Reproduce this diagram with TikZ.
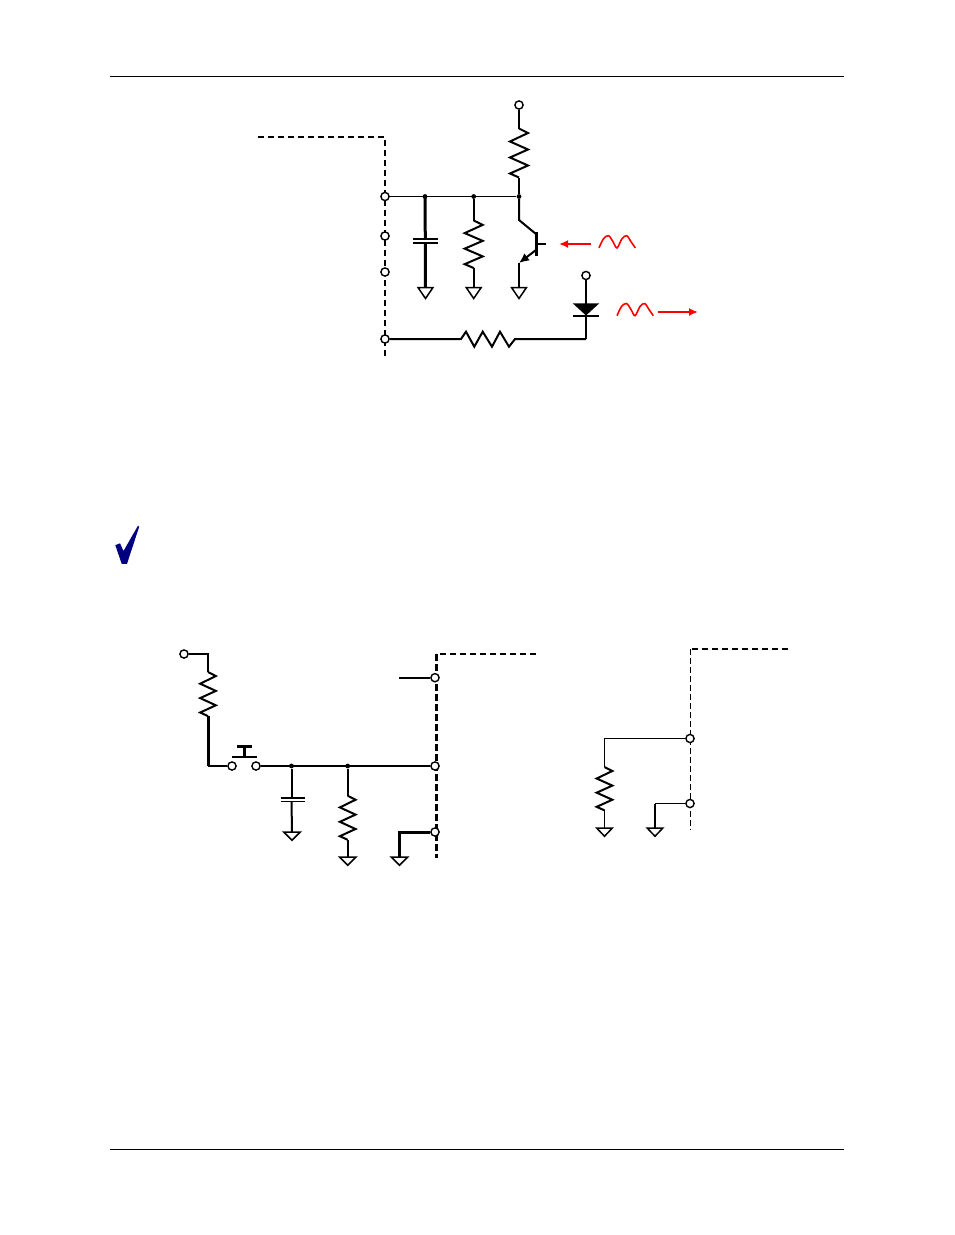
\documentclass[tikz,border=0pt]{standalone}
\usepackage{xcolor}
\usepackage{tikz}
\usetikzlibrary{arrows.meta}
\definecolor{checkblue}{RGB}{0,0,128}
\tikzset{
  term/.style={circle,draw,fill=white,inner sep=0pt,minimum size=8.2pt,line width=1.4pt},
  dot/.style={circle,fill=black,inner sep=0pt,minimum size=4.8pt},
  wire/.style={line width=2pt},
  thinwire/.style={line width=1.4pt},
  heavywire/.style={line width=3pt},
  bound/.style={dashed,dash pattern=on 6pt off 4pt,line width=1.9pt},
  sig/.style={red,line width=1.9pt,-{Latex[length=9pt,width=8pt]}},
  wave/.style={red,line width=1.6pt},
  res/.pic={
    \coordinate (a) at (0,0);
    \coordinate (b) at (0,49);
    \draw[wire,line join=miter] (a)--(9,4.5)--(-9,13)--(9,21)--(-9,29)--(9,37)--(-9,45)--(b);
  },
  gnd/.pic={
    \coordinate (top) at (0,0);
    \draw[line width=1.5pt,line join=miter] (-7.5,0)--(7.5,0)--(0,11)--cycle;
  },
  bump/.pic={
    \draw[wave] plot[smooth,tension=0.55] coordinates {(0,12.2) (4.5,3) (9.5,0) (14,6) (18,12.2) (23,3) (27.7,0) (32,6) (36.3,12.2)};
  }
}
\begin{document}
\begin{tikzpicture}[x=1pt,y=-1pt]
\useasboundingbox (0,0) rectangle (954,1235);
\fill[white] (0,0) rectangle (954,1235);
% page rules
\draw[line width=1pt] (110,76.5)--(844,76.5);
\draw[line width=1pt] (110,1149.5)--(844,1149.5);
% check mark
\fill[checkblue] (115.3,545.2)--(120,543.3)--(123.5,551)--(138,525.7)--(139.2,526.7)--(127,563.8)--(121.7,563.8)--cycle;

% top circuit
\coordinate (topA) at (258,137);
\coordinate (topB) at (385,137);
\coordinate (topC) at (385,356);
\draw[bound] (topA)--(topB)--(topC);
\node[term] (vcc) at (519,105) {};
\node[term] (pinA) at (385,196.5) {};
\node[term] (pinB) at (385,236) {};
\node[term] (pinC) at (385,272) {};
\node[term] (pinD) at (385,339) {};
\node[term] (ledV) at (586,275.5) {};
\node[dot] (j1) at (425,196.5) {};
\node[dot] (j2) at (473.7,196.5) {};
\node[dot] (j3) at (519,196.5) {};
\pic (r1) at (519,128.5) {res};
\pic[yscale=0.97] (r2) at (473.7,220.5) {res};
\pic (g1) at (425.5,287.5) {gnd};
\pic (g2) at (473.7,287.5) {gnd};
\pic (g3) at (519,287.5) {gnd};
\draw[wire] (vcc)--(r1a);
\draw[wire] (r1b)--(j3);
\draw[thinwire] (pinA)--(j3);
\draw[wire] (j2)--(r2a);
\draw[wire] (r2b)--(g2top);
% capacitor
\coordinate (c1a) at (425.3,239);
\coordinate (c1b) at (425.3,243);
\draw[heavywire] (j1.center)--(c1a);
\draw[heavywire] (c1b)--(g1top);
\draw[thinwire] (413,239)--(438,239);
\draw[thinwire] (413,243)--(438,243);
% transistor
\coordinate (qC) at (519,220);
\coordinate (qB) at (536,244);
\coordinate (qE) at (519,263);
\draw[wire] (j3)--(qC)--(536,234);
\draw[heavywire] (536,232)--(536,256);
\draw[wire] (qB)--(545.5,244);
\draw[wire,-{Latex[length=10pt,width=9pt]}] (536,250)--(qE);
\draw[wire] (qE)--(g3top);
% led and series resistor
\coordinate (ledK) at (586,339);
\draw[wire] (ledV)--(ledK);
\fill (572.7,303.3)--(599.3,303.3)--(586,315.5)--cycle;
\draw[wire] (573,315.7)--(599,315.7);
\coordinate (r3a) at (461,339);
\coordinate (r3b) at (515,339);
\draw[wire,line join=miter] (pinD)--(r3a)--(466,331.7)--(474.3,346.7)--(482.7,331.7)--(492,346.7)--(500,331.7)--(509,346.7)--(r3b)--(ledK);
% signals
\coordinate (sigA) at (591,244);
\coordinate (sigB) at (559,244);
\coordinate (sigC) at (658,312);
\coordinate (sigD) at (698,312);
\draw[sig] (sigA)--(sigB);
\draw[sig] (sigC)--(sigD);
\pic at (599,235.7) {bump};
\pic at (617,303.5) {bump};

% switch circuit
\coordinate (swA) at (536,654);
\coordinate (swB) at (436,654);
\coordinate (swC) at (436,858);
\draw[bound] (swA)--(swB);
\draw[heavywire,dashed,dash pattern=on 7pt off 3pt] (swB)--(swC);
\node[term] (sup) at (184,654) {};
\node[term] (sw1) at (232,766) {};
\node[term] (sw2) at (256,766) {};
\node[term] (p1) at (435,677.7) {};
\node[term] (p2) at (435,766) {};
\node[term] (p3) at (435,832) {};
\node[dot] (j4) at (291.5,766) {};
\node[dot] (j5) at (347.7,766) {};
\pic[yscale=0.9,xscale=0.87] (r4) at (208,672) {res};
\pic[yscale=0.9,xscale=0.87] (r5) at (347.7,795.7) {res};
\pic[yscale=0.75,xscale=1.1] (g4) at (292,832) {gnd};
\pic[yscale=0.75,xscale=1.1] (g5) at (347.7,857) {gnd};
\pic[yscale=0.75,xscale=1.1] (g6) at (399.5,857) {gnd};
\coordinate (l1) at (399,677.7);
\coordinate (c4) at (208,654);
\coordinate (c5) at (208,766);
\coordinate (c6) at (399.5,832);
\draw[wire] (sup)--(c4)--(r4a);
\draw[heavywire] (r4b)--(c5);
\draw[wire] (c5)--(sw1);
\draw[wire] (sw2)--(p2);
\draw[wire] (l1)--(p1);
\draw[wire] (j5)--(r5a);
\draw[wire] (r5b)--(g5top);
\draw[heavywire] (p3)--(c6)--(g6top);
% switch cap
\coordinate (c2a) at (291.5,798);
\coordinate (c2b) at (291.5,801.3);
\draw[wire] (j4)--(c2a);
\draw[wire] (c2b)--(g4top);
\draw[thinwire] (280.7,798)--(305,798);
\draw[thinwire] (280.7,801.3)--(305,801.3);
% push button
\draw[wire] (232,757.3)--(257,757.3);
\draw[heavywire] (244.3,746)--(244.3,757.3);
\draw[heavywire] (237,746)--(252,746);

% right circuit
\coordinate (rtA) at (788,649);
\coordinate (rtB) at (690.5,649);
\coordinate (rtC) at (690.5,830);
\draw[bound] (rtA)--(rtB);
\draw[dashed,dash pattern=on 6pt off 3pt,line width=1.2pt] (rtB)--(rtC);
\node[term] (q1) at (690,738.5) {};
\node[term] (q2) at (690,803.5) {};
\pic[yscale=0.885,xscale=0.87] (r6) at (604.5,767) {res};
\pic[yscale=0.75,xscale=1.05] (g7) at (604.5,828) {gnd};
\pic[yscale=0.75,xscale=1.05] (g8) at (655,828) {gnd};
\coordinate (c7) at (604.5,738.5);
\coordinate (c8) at (655,803.5);
\draw[thinwire] (q1)--(c7)--(r6a);
\draw[thinwire] (r6b)--(g7top);
\draw[thinwire] (q2)--(c8);
\draw[wire] (c8)--(g8top);
\end{tikzpicture}
\end{document}
